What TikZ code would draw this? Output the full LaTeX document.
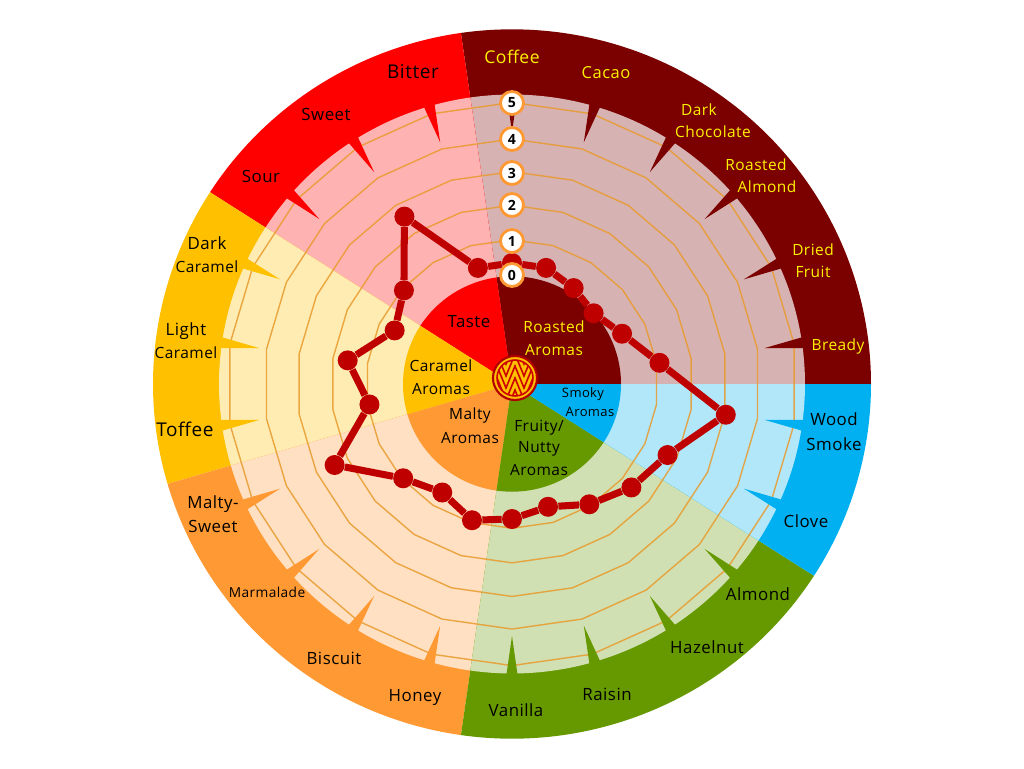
\documentclass[tikz,border=0pt]{standalone}
\usepackage{fontspec}
\setmainfont{Open Sans}[LetterSpace=3]
\definecolor{roast}{HTML}{7B0000}
\definecolor{taste}{HTML}{FF0000}
\definecolor{caramel}{HTML}{FFC000}
\definecolor{malt}{HTML}{FF9933}
\definecolor{fruit}{HTML}{669900}
\definecolor{smoke}{HTML}{00B0F0}
\definecolor{gridline}{HTML}{E89A2C}
\definecolor{dataline}{HTML}{BE0000}
\tikzset{
    darklabel/.style={text=black, font=\fontsize{9.6}{11}\selectfont, inner sep=0pt},
    discfont/.style={font=\fontsize{8.8}{9}\selectfont},
    goldlabel/.style={text=yellow, font=\fontsize{8.8}{11}\selectfont, inner sep=0pt},
    datadot/.style={circle, fill=dataline, inner sep=0pt, minimum size=0.4cm},
    scorebadge/.style={circle, fill=white, draw=malt, line width=1.6pt, inner sep=0pt, minimum size=0.46cm, font=\fontsize{8}{9}\selectfont\bfseries}
}
\begin{document}
\begin{tikzpicture}[x=0.02cm, y=0.02cm]
    \useasboundingbox (-512,-384) rectangle (512,384);

    \begin{scope}[yscale=0.988]
        % Outer ring and pale wheel
        \foreach \a/\b/\col in {0/98.18/roast, 98.18/147.27/taste, 147.27/196.36/caramel, 196.36/261.82/malt, 261.82/327.27/fruit, 327.27/360/smoke} {
            \fill[\col] (0,0) -- (\a:359) arc[start angle=\a, end angle=\b, radius=359] -- cycle;
            \fill[\col!30!white] (0,0) -- (\a:293) arc[start angle=\a, end angle=\b, radius=293] -- cycle;
        }

        % Add grid
        \foreach \r in {146,181,215,248,285} {
            \draw[gridline, line width=0.8pt, opacity=0.85] (90:\r) \foreach \i in {1,...,21} { -- ({90-\i*360/22}:\r) } -- cycle;
        }

        % Ticks
        \foreach \col [count=\i from 0] in {roast,roast,roast,roast,roast,roast,smoke,smoke,fruit,fruit,fruit,fruit,malt,malt,malt,malt,caramel,caramel,caramel,taste,taste,taste} {
            \pgfmathsetmacro{\ang}{90-\i*360/22}
            \fill[\col] (\ang-1.1:295) -- (\ang+1.1:295) -- (\ang:255) -- cycle;
        }

        % Inner disc
        \foreach \a/\b/\col in {0/98.18/roast, 98.18/147.27/taste, 147.27/196.36/caramel, 196.36/261.82/malt, 261.82/327.27/fruit, 327.27/360/smoke} {
            \fill[\col] (0,0) -- (\a:109) arc[start angle=\a, end angle=\b, radius=109] -- cycle;
        }
    \end{scope}

    % Plot the scores
    \foreach \v [count=\i from 0] in {121,121,114,108,121,149,216,171,158,143,128,135,142,129,144,195,144,166,129,143,199,121} {
        \node[datadot] (p\i) at ({90-\i*360/22}:\v) {};
    }
    \foreach \i in {0,...,21} {
        \pgfmathtruncatemacro{\j}{mod(\i+1,22)}
        \draw[dataline, line width=4pt] (p\i) -- (p\j);
    }

    % Scale badges
    \node[scorebadge] (s0) at (0,109) {0};
    \node[scorebadge] (s1) at (0,143) {1};
    \node[scorebadge] (s2) at (0,179) {2};
    \node[scorebadge] (s3) at (0,211) {3};
    \node[scorebadge] (s4) at (0,245) {4};
    \node[scorebadge] (s5) at (0,281) {5};

    % Centre medallion
    \begin{scope}[shift={(3,6)}]
        \fill[caramel] (0,0) circle (22);
        \begin{scope}
            \clip (0,0) circle (18);
            \foreach \h in {-46,-34,-22,-10,2,14} {
                \draw[taste!80!black, line width=0.9pt] (-27,\h) -- (-18,\h+22) -- (-9,\h) -- (0,\h+22) -- (9,\h) -- (18,\h+22) -- (27,\h);
            }
        \end{scope}
        \draw[taste!80!black, line width=0.9pt] (0,0) circle (18);
        \draw[taste!70!black, line width=1.2pt] (0,0) circle (22);
    \end{scope}

    % Add labels on the outer ring
    \node[goldlabel, font=\fontsize{10}{11}\selectfont] (coffee) at (0,327) {Coffee};
    \node[goldlabel, font=\fontsize{9.4}{11}\selectfont] (cacao) at (94,311) {Cacao};
    \node[goldlabel] (dark) at (187,274) {Dark};
    \node[goldlabel] (chocolate) at (201,252) {Chocolate};
    \node[goldlabel] (roasted) at (244,219) {Roasted};
    \node[goldlabel] (almondr) at (255,197) {Almond};
    \node[goldlabel] (dried) at (301,134) {Dried};
    \node[goldlabel] (driedfruit) at (301,112) {Fruit};
    \node[goldlabel] (bready) at (326,38) {Bready};
    \node[darklabel] (wood) at (322,-35) {Wood};
    \node[darklabel] (woodsmoke) at (322,-60) {Smoke};
    \node[darklabel] (clove) at (294,-137) {Clove};
    \node[darklabel] (almond) at (246,-210) {Almond};
    \node[darklabel] (hazelnut) at (195,-263) {Hazelnut};
    \node[darklabel] (raisin) at (95,-310) {Raisin};
    \node[darklabel] (vanilla) at (4,-326) {Vanilla};
    \node[darklabel] (honey) at (-97,-313) {Honey};
    \node[darklabel] (biscuit) at (-178,-274) {Biscuit};
    \node[darklabel, font=\fontsize{7.8}{9}\selectfont] (marmalade) at (-245,-208) {Marmalade};
    \node[darklabel] (malty) at (-299,-120) {Malty-};
    \node[darklabel] (maltysweet) at (-299,-142) {Sweet};
    \node[darklabel, font=\fontsize{10.8}{11}\selectfont] (toffee) at (-327,-45) {Toffee};
    \node[darklabel] (light) at (-326,53) {Light};
    \node[darklabel, discfont] (lightcaramel) at (-326,31) {Caramel};
    \node[darklabel] (darkc) at (-305,141) {Dark};
    \node[darklabel, discfont] (darkcaramel) at (-305,117) {Caramel};
    \node[darklabel] (sour) at (-251,208) {Sour};
    \node[darklabel] (sweet) at (-186,270) {Sweet};
    \node[darklabel, font=\fontsize{10.8}{11}\selectfont] (bitter) at (-99,312) {Bitter};

    % Add labels on the inner disc
    \node[darklabel, font=\fontsize{9.6}{9}\selectfont] (tastelbl) at (-43,62) {Taste};
    \node[goldlabel] (roastedin) at (42,57) {Roasted};
    \node[goldlabel] (roastedar) at (42,34) {Aromas};
    \node[darklabel, discfont] (caramelin) at (-71,18) {Caramel};
    \node[darklabel, discfont] (caramelar) at (-71,-5) {Aromas};
    \node[darklabel, discfont] (maltyin) at (-42,-31) {Malty};
    \node[darklabel, discfont] (maltyar) at (-42,-54) {Aromas};
    \node[darklabel, discfont] (fruity) at (27,-44) {Fruity/};
    \node[darklabel, discfont] (nutty) at (27,-65) {Nutty};
    \node[darklabel, discfont] (fruityar) at (27,-86) {Aromas};
    \node[darklabel, font=\fontsize{7.4}{9}\selectfont] (smoky) at (71,-10) {Smoky};
    \node[darklabel, font=\fontsize{7.4}{9}\selectfont] (smokyar) at (78,-28) {Aromas};
\end{tikzpicture}
\end{document}
